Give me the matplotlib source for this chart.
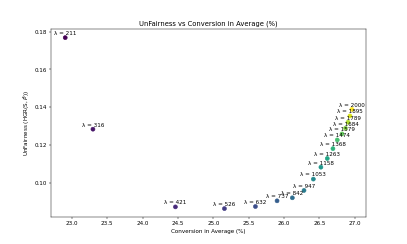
import matplotlib
matplotlib.use("Agg")
import matplotlib.pyplot as plt

lambdas = [211, 316, 421, 526, 632, 737, 842, 947, 1053, 1158, 1263, 1368, 1474, 1579, 1684, 1789, 1895, 2000]
conversion = [22.905, 23.297, 24.463, 25.156, 25.594, 25.900, 26.116, 26.281, 26.413, 26.520, 26.610, 26.690,
              26.751, 26.818, 26.867, 26.903, 26.931, 26.959]
unfairness = [0.1768, 0.1284, 0.0873, 0.0864, 0.0875, 0.0905, 0.0921, 0.0960, 0.1020, 0.1083, 0.1129, 0.1181,
              0.1227, 0.1259, 0.1289, 0.1321, 0.1354, 0.1389]

fig, ax = plt.subplots(figsize=(10, 6), dpi=40.7)
ax.scatter(conversion, unfairness, c=lambdas, cmap='viridis', s=50)
for l, x, y in zip(lambdas, conversion, unfairness):
    ax.annotate('λ = %d' % l, (x, y), xytext=(0, 5), textcoords='offset points', ha='center')
ax.set_title('UnFairness vs Conversion in Average (%)')
ax.set_xlabel('Conversion in Average (%)')
ax.set_ylabel(r'UnFairness (HGR(S, $\hat{P}$))')
fig.savefig('out.png', dpi=40.7)
